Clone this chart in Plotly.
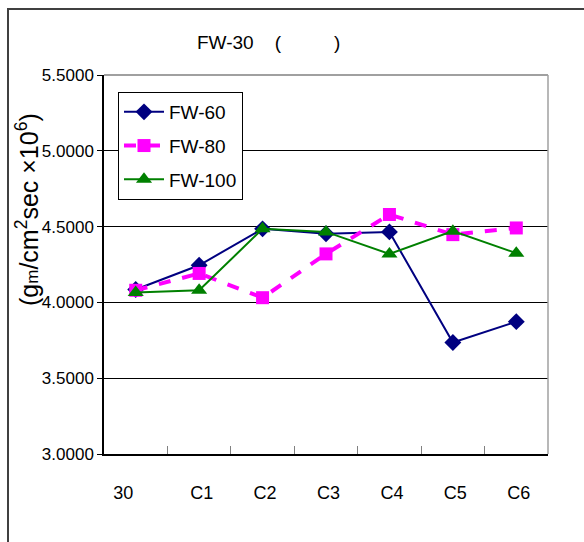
import plotly.graph_objects as go

categories = ["30", "C1", "C2", "C3", "C4", "C5", "C6"]
tick_labels = ["30\u00a0\u00a0\u00a0\u00a0\u00a0", "\u00a0C1", "\u00a0C2", "\u00a0C3", "\u00a0C4", "\u00a0C5", "\u00a0C6"]
fw60 = [4.085, 4.245, 4.485, 4.453, 4.465, 3.735, 3.873]
fw80 = [4.080, 4.191, 4.031, 4.320, 4.580, 4.447, 4.491]
fw100 = [4.065, 4.080, 4.485, 4.465, 4.320, 4.470, 4.325]

W, H = 584, 542
L, R, T, B = 104, 548, 75, 454

def px(x):
    return (x - L) / (R - L)

def py(y):
    return (B - y) / (B - T)

FONT = "Liberation Sans, Arial, sans-serif"

fig = go.Figure()
fig.add_trace(go.Scatter(x=categories, y=fw60, name="FW-60", legendgroup="a", mode="lines+markers",
                         line=dict(color="#000080", width=2),
                         marker=dict(symbol="diamond", size=13, color="#000080")))
fig.add_trace(go.Scatter(x=categories, y=fw80, name="FW-80", legendgroup="b", mode="lines+markers",
                         line=dict(color="#FF00FF", width=4, dash="dash"),
                         marker=dict(symbol="square", size=13, color="#FF00FF")))
fig.add_trace(go.Scatter(x=categories, y=fw100, name="FW-100", legendgroup="c", mode="lines+markers",
                         line=dict(color="#008000", width=2),
                         marker=dict(symbol="triangle-up", size=14, color="#008000")))

fig.update_layout(
    width=W, height=H,
    margin=dict(l=L, r=W - R, t=T, b=H - B, pad=0),
    paper_bgcolor="white", plot_bgcolor="white",
    font=dict(family=FONT, size=18, color="black"),
    showlegend=True,
    legend=dict(x=px(118), y=py(92), xanchor="left", yanchor="top",
                bgcolor="white", bordercolor="black", borderwidth=1,
                font=dict(family=FONT, size=19, color="black"),
                itemwidth=40, tracegroupgap=6),
    xaxis=dict(type="category", categoryorder="array", categoryarray=categories,
               tickmode="array", tickvals=categories, ticktext=tick_labels,
               tickson="boundaries", ticks="inside", ticklen=8, tickcolor="#808080",
               tickangle=0, ticklabelstandoff=22,
               showline=True, linecolor="black", linewidth=1.5,
               showgrid=False, zeroline=False, range=[-0.5, 6.5],
               tickfont=dict(family=FONT, size=18)),
    yaxis=dict(range=[3.0, 5.5], dtick=0.5, tick0=3.0, tickformat=".4f",
               ticks="outside", ticklen=5, tickcolor="black",
               showline=True, linecolor="black", linewidth=1.5,
               showgrid=True, gridcolor="black", gridwidth=1, zeroline=False,
               tickfont=dict(family=FONT, size=17)),
)

# plot-area top/right border (gray)
fig.add_shape(type="line", xref="paper", yref="paper", x0=0, x1=1, y0=1, y1=1,
              line=dict(color="#808080", width=1.5), layer="above")
fig.add_shape(type="line", xref="paper", yref="paper", x0=1, x1=1, y0=0, y1=1,
              line=dict(color="#A0A0A0", width=1.5), layer="above")
# outer chart border
fig.add_shape(type="rect", xref="paper", yref="paper",
              x0=px(8), x1=px(600), y0=py(560), y1=py(9),
              line=dict(color="#404040", width=2), layer="above")

fig.add_annotation(text="FW-30\u00a0\u00a0\u00a0\u00a0(\u00a0\u00a0\u00a0\u00a0\u00a0\u00a0\u00a0\u00a0\u00a0\u00a0)",
                   xref="paper", yref="paper", x=px(195), y=py(42),
                   xanchor="left", yanchor="middle", showarrow=False,
                   font=dict(family=FONT, size=19, color="black"))
fig.add_annotation(text="(g<span style='font-size:17px'>m</span>/cm<sup>2</sup>sec ×10<sup>6</sup>)",
                   xref="paper", yref="paper", x=px(27), y=py(210),
                   xanchor="center", yanchor="middle", textangle=-90, showarrow=False,
                   font=dict(family=FONT, size=25, color="black"))

fig.write_html("out.html")
